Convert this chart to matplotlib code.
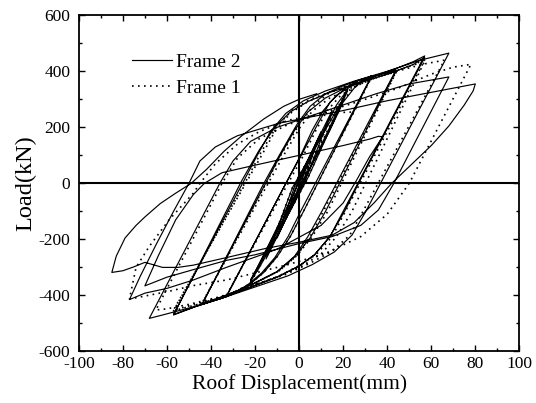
import matplotlib
matplotlib.use("Agg")
import matplotlib.pyplot as plt
from matplotlib.ticker import MultipleLocator

plt.rcParams["font.family"] = ["Liberation Serif", "DejaVu Serif"]
plt.rcParams["axes.unicode_minus"] = False

# Load-displacement history, Frame 2 (solid)
frame2_disp = [
    0, 5, 1, -5, -1, 10, 2, -10, -2, 15, 3, -15, -3, 22, 4, -12, -18, -22,
    -2, 10, 17, 22, 3, -13, -19, -22,
    8, 14, 20, 25, 29, 33,
    0.7, -5, -11, -17, -23, -28, -33,
    -6, 1, 8, 14, 21, 27, 33,
    2, -4, -10, -16, -22, -28, -33,
    0.7, 6, 11, 17, 24, 32, 38, 44,
    10.3, 4, -2, -10, -20, -30, -38, -44,
    -16, -9, -1, 5, 12, 19, 27, 36, 44,
    12, 5, -2, -10, -20, -30, -38, -44,
    -8.5, -2, 4, 12, 22, 33, 44, 52, 57,
    20, 14, 7, 0, -10, -22, -35, -47, -57,
    -26, -18, -11, -4, 4, 14, 28, 42, 52, 57,
    27, 21, 14, 7, 0, -10, -22, -35, -47, -57,
    -19, -13, -6, 2, 12, 25, 40, 55, 68,
    30.3, 24, 16, 6, -5, -20, -35, -50, -62, -68,
    -36, -30, -22, -10, 5, 20, 35, 50, 68,
    43, 36, 28, 15, 0, -20, -33, -48, -60, -70,
    -64, -56, -48, -43, -35, -20, 0, 20, 32, 36, 38, 37,
    32, 26, 20, 10, -10, -33, -48, -60, -70, -77,
    -72, -65, -57, -50, -45, -38, -28, -9, 20, 40, 60, 80,
    79, 75, 68, 60, 50, 42, 34, 25, 15, 0, -15, -33, -48, -55, -62, -66, -70, -75, -80, -85,
    -83, -79, -74, -70, -63, -56, -49, -42, -34, -26, -16, -7, 0, 8,
]
frame2_load = [
    0, 95, 5, -100, -5, 185, 10, -195, -10, 260, 15, -270, -15, 330, 20, -215, -300, -350,
    -30, 170, 280, 335, 20, -220, -305, -345,
    100, 190, 290, 340, 368, 385,
    -100, -190, -265, -320, -360, -385, -405,
    0, 100, 205, 290, 340, 368, 383,
    -100, -190, -262, -318, -358, -385, -402,
    100, 190, 260, 315, 348, 375, 392, 405,
    -100, -190, -260, -315, -355, -390, -415, -432,
    0, 100, 210, 275, 320, 345, 368, 388, 402,
    -100, -195, -262, -316, -356, -390, -413, -430,
    100, 190, 255, 305, 345, 380, 410, 435, 455,
    -100, -190, -255, -295, -335, -370, -410, -440, -470,
    10, 120, 200, 255, 292, 325, 360, 395, 425, 450,
    0, -95, -190, -255, -295, -335, -370, -410, -440, -468,
    100, 185, 250, 295, 330, 365, 400, 440, 465,
    -100, -185, -245, -290, -330, -370, -410, -445, -470, -482,
    0, 80, 150, 200, 240, 280, 320, 355, 380,
    0, -95, -150, -190, -215, -255, -275, -308, -335, -366,
    -260, -130, -40, 0, 38, 65, 100, 135, 158, 168, 166, 155,
    95, 10, -70, -150, -235, -300, -345, -375, -392, -415,
    -330, -220, -100, 0, 80, 130, 170, 215, 260, 295, 325, 355,
    330, 280, 205, 135, 60, 0, -70, -140, -185, -210, -232, -265, -292, -300, -300, -291, -282, -298, -312, -318,
    -260, -195, -150, -120, -72, -35, 0, 50, 115, 170, 230, 275, 300, 320,
]

# Load-displacement history, Frame 1 (dotted)
frame1_disp = [
    0, 5, 1, -5, -1, 10, 2, -10, -2, 15, 3, -15, -3, 21, 4, -12, -21,
    7, 13, 19, 24, 28, 33,
    2, -4, -10, -16, -22, -28, -33,
    2, 8, 13, 19, 26, 33, 39, 44,
    11, 5, -1, -9, -19, -29, -37, -44,
    -15, -8, 0, 7, 14, 22, 30, 38, 44,
    13, 6, -1, -9, -19, -29, -37, -44,
    -7, 0, 6, 14, 24, 35, 45, 52, 57,
    21, 15, 8, 1, -9, -21, -34, -46, -57,
    -24, -17, -10, -3, 5, 16, 30, 44, 57,
    24, 17, 10, 2, -9, -21, -34, -46, -57,
    -17, -11, -4, 4, 14, 27, 42, 56, 66,
    29, 23, 15, 5, -6, -21, -36, -50, -60, -65,
    -35, -28, -18, -5, 10, 30, 45, 60, 70, 78,
    50, 40, 28, 12, -5, -20, -33, -48, -60, -77,
    -74, -68, -59, -48, -45, -38, -28, -18, -5, 10, 25,
]
frame1_load = [
    0, 90, 5, -95, -5, 180, 10, -190, -10, 250, 15, -265, -15, 320, 20, -215, -340,
    95, 190, 285, 335, 360, 380,
    -100, -190, -262, -318, -358, -382, -400,
    100, 195, 262, 315, 348, 372, 388, 398,
    -100, -190, -258, -312, -352, -388, -412, -428,
    0, 105, 210, 282, 325, 352, 372, 388, 396,
    -100, -190, -258, -312, -352, -386, -410, -426,
    100, 195, 258, 305, 342, 378, 405, 425, 440,
    -100, -190, -252, -290, -330, -366, -405, -432, -455,
    10, 115, 205, 262, 300, 332, 365, 402, 436,
    -100, -190, -252, -292, -330, -366, -403, -430, -452,
    100, 185, 250, 292, 325, 360, 395, 425, 440,
    -100, -185, -242, -285, -325, -365, -405, -432, -448, -452,
    0, 90, 160, 210, 250, 300, 340, 390, 415, 425,
    0, -110, -190, -250, -290, -320, -345, -365, -387, -413,
    -300, -225, -130, -35, 0, 70, 140, 185, 225, 250, 255,
]

x_ticks = [-100, -80, -60, -40, -20, 0, 20, 40, 60, 80, 100]
y_ticks = [-600, -400, -200, 0, 200, 400, 600]

fig = plt.figure(figsize=(5.36, 4.03), dpi=100)
ax = fig.add_axes([0.147, 0.128, 0.822, 0.834])

ax.plot(frame2_disp, frame2_load, color="black", lw=0.85, label="Frame 2")
ax.plot(frame1_disp, frame1_load, color="black", lw=1.2,
        linestyle=(0, (1, 2.6)), label="Frame 1")

ax.axhline(0, color="black", lw=1.5, zorder=3)
ax.axvline(0, color="black", lw=1.5, zorder=3)

ax.set_xlim(-100, 100)
ax.set_ylim(-600, 600)
ax.set_xticks(x_ticks)
ax.set_yticks(y_ticks)
ax.xaxis.set_minor_locator(MultipleLocator(10))
ax.yaxis.set_minor_locator(MultipleLocator(100))
ax.tick_params(which="both", direction="in", top=True, right=True,
               labelsize=12.5, width=1.0)
ax.tick_params(which="major", length=4.5)
ax.tick_params(which="minor", length=2.5)
ax.tick_params(axis="x", pad=3)
ax.tick_params(axis="y", pad=6)
for s in ax.spines.values():
    s.set_linewidth(1.3)

ax.set_xlabel("Roof Displacement(mm)", fontsize=15.5, labelpad=2)
ax.set_ylabel("Load(kN)", fontsize=17.5, labelpad=2)

ax.legend(loc="upper left", bbox_to_anchor=(0.104, 0.91), frameon=False,
          fontsize=14, handlelength=2.05, handletextpad=0.2,
          labelspacing=0.42, borderaxespad=0)

fig.savefig("out.png", dpi=100)
